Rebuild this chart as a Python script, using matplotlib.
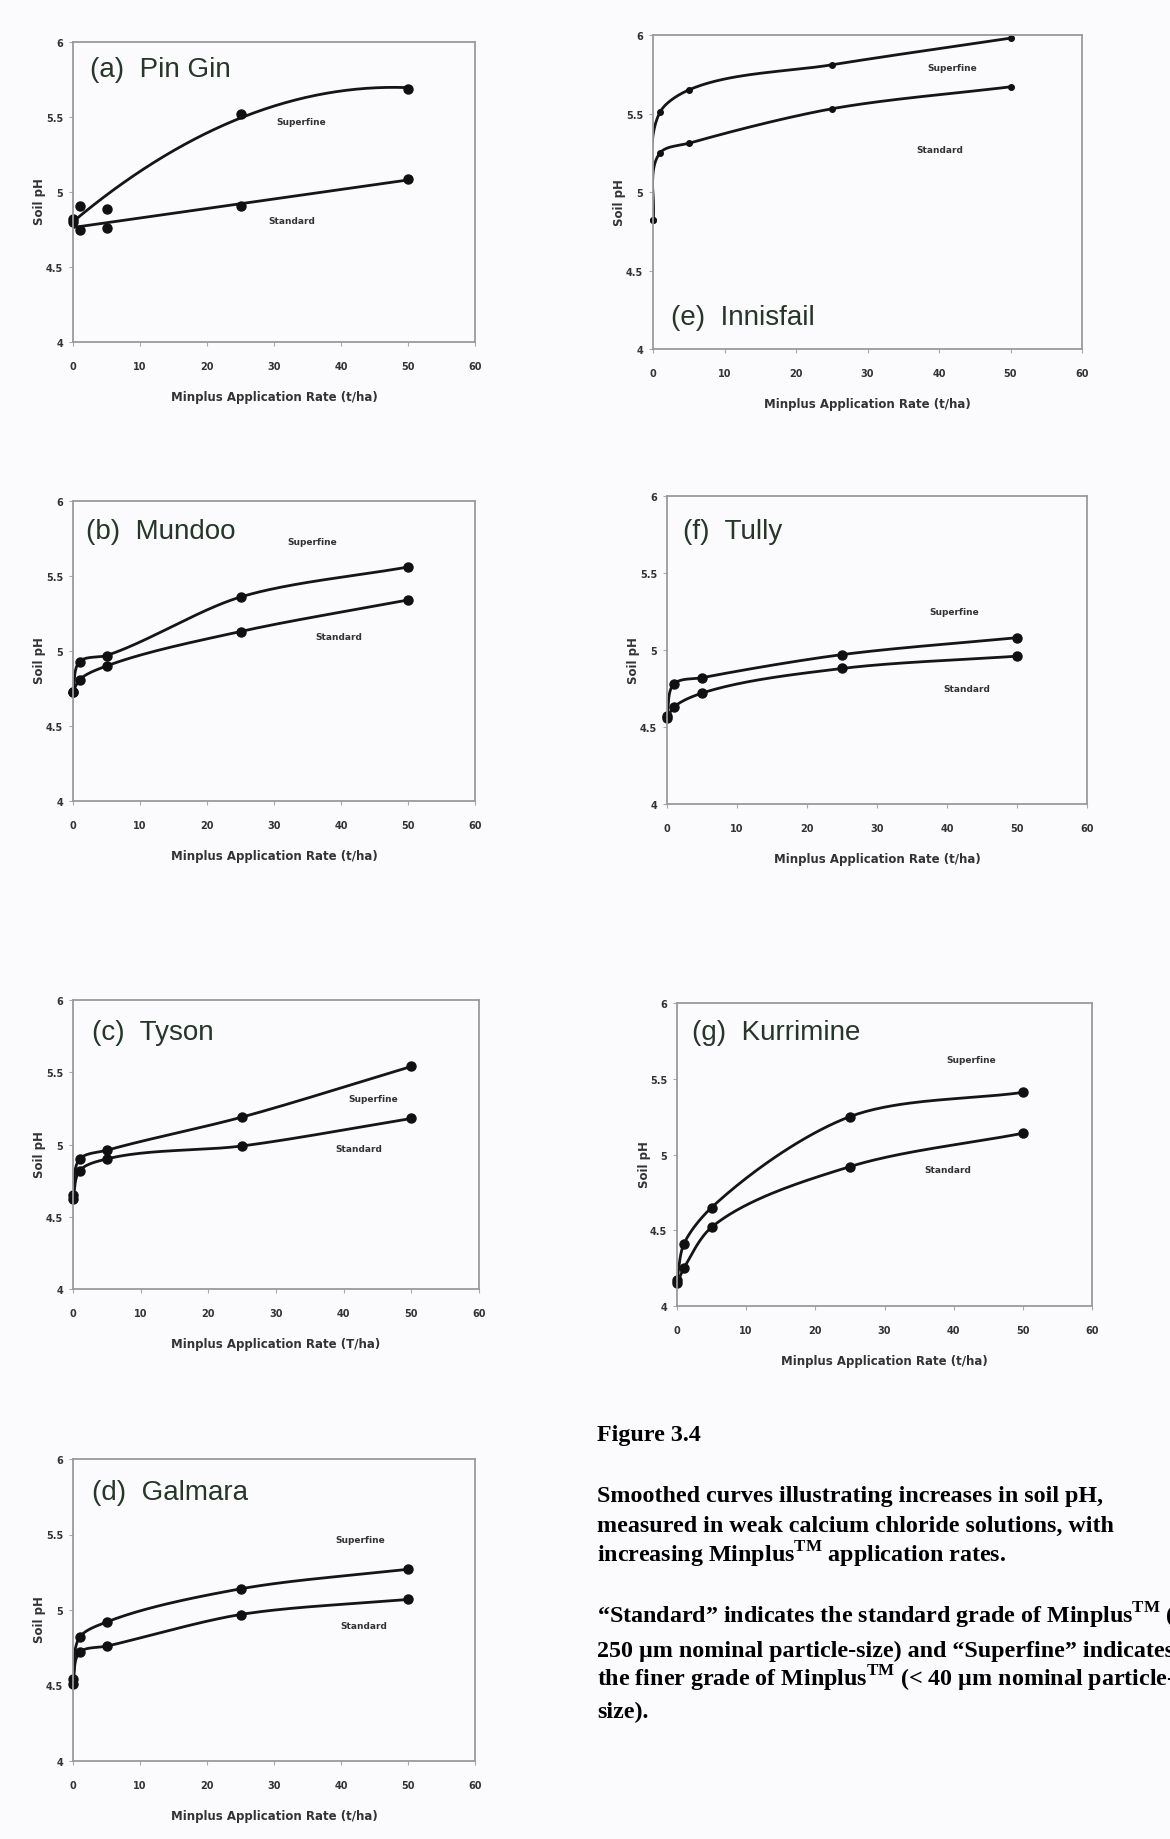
import numpy as np
import matplotlib
matplotlib.use('Agg')
import matplotlib.pyplot as plt

plt.rcParams['mathtext.fontset'] = 'custom'
plt.rcParams['mathtext.rm'] = 'Liberation Serif:bold'

# application rates (t/ha)
rates = [0, 1, 5, 25, 50]

# soil pH
pingin_super = [4.80, 4.91, 4.89, 5.52, 5.69]
pingin_std = [4.82, 4.75, 4.76, 4.91, 5.09]
mundoo_super = [4.73, 4.93, 4.97, 5.36, 5.56]
mundoo_std = [4.73, 4.81, 4.90, 5.13, 5.34]
tyson_super = [4.65, 4.90, 4.96, 5.19, 5.54]
tyson_std = [4.62, 4.82, 4.90, 4.99, 5.18]
galmara_super = [4.54, 4.82, 4.92, 5.14, 5.27]
galmara_std = [4.51, 4.72, 4.76, 4.97, 5.07]
innis_super = [4.82, 5.51, 5.65, 5.81, 5.98]
innis_std = [4.82, 5.25, 5.31, 5.53, 5.67]
tully_super = [4.57, 4.78, 4.82, 4.97, 5.08]
tully_std = [4.56, 4.63, 4.72, 4.88, 4.96]
kurri_super = [4.17, 4.41, 4.65, 5.25, 5.41]
kurri_std = [4.15, 4.25, 4.52, 4.92, 5.14]

W, H = 1170, 1840
NARROW = ['Liberation Sans Narrow', 'DejaVu Sans']


def smooth(xs, ys, ax_w, ax_h, k=0.3, n=40):
    # bezier "smoothed line" through the points, worked out in screen space
    p = np.column_stack([np.array(xs) / 60.0 * ax_w, (np.array(ys) - 4) / 2.0 * ax_h])
    m = len(p)
    tang = []
    for i in range(m):
        if i == 0:
            d = p[1] - p[0]
        elif i == m - 1:
            d = p[-1] - p[-2]
        else:
            a = p[i] - p[i - 1]
            b = p[i + 1] - p[i]
            d = a / np.linalg.norm(a) + b / np.linalg.norm(b)
        tang.append(d / np.linalg.norm(d))
    out = []
    t = np.linspace(0, 1, n)[:, None]
    for i in range(m - 1):
        L = np.linalg.norm(p[i + 1] - p[i])
        c1 = p[i] + k * L * tang[i]
        c2 = p[i + 1] - k * L * tang[i + 1]
        seg = ((1 - t) ** 3) * p[i] + 3 * ((1 - t) ** 2) * t * c1 + 3 * (1 - t) * t ** 2 * c2 + t ** 3 * p[i + 1]
        out.append(seg)
    out = np.vstack(out)
    return out[:, 0] / ax_w * 60.0, out[:, 1] / ax_h * 2.0 + 4


def panel(box, title, tpos, sup, std, sup_lab, std_lab, unit='t/ha', fit=None, ms=6.5):
    x0, y0, x1, y1 = box
    w, h = x1 - x0, y1 - y0
    ax = fig.add_axes([x0 / W, 1 - y1 / H, w / W, h / H])
    ax.set_facecolor('none')
    ax.set_xlim(0, 60)
    ax.set_ylim(4, 6)
    ax.set_xticks(range(0, 61, 10))
    ax.set_yticks([4, 4.5, 5, 5.5, 6])
    ax.set_yticklabels(['4', '4.5', '5', '5.5', '6'])
    for s in ax.spines.values():
        s.set_color('#9a9a9a')
        s.set_linewidth(1.3)
    ax.tick_params(length=3, width=0.8, color='#aaaaaa', labelsize=7,
                   labelcolor='#333333')
    ax.tick_params(axis='x', pad=11)
    ax.tick_params(axis='y', pad=4)
    for lab in ax.get_xticklabels() + ax.get_yticklabels():
        lab.set_fontweight('bold')
        lab.set_family(NARROW)
    for ys in (sup, std):
        if fit == 'poly':
            deg = 2 if ys is sup else 1
            c = np.polyfit(rates, ys, deg)
            xx = np.linspace(0, 50, 200)
            ax.plot(xx, np.polyval(c, xx), color='#151515', lw=2.0)
        else:
            xx, yy = smooth(rates, ys, w, h)
            ax.plot(xx, yy, color='#151515', lw=2.0, solid_capstyle='round')
        ax.plot(rates, ys, 'o', color='#101010', ms=ms, clip_on=False)
    ax.text(tpos[0], tpos[1], title, transform=ax.transAxes, fontsize=20,
            color='#263629', family='Liberation Sans', va='baseline')
    ax.text(sup_lab[0], sup_lab[1], 'Superfine', fontsize=6.5, ha='center', va='center',
            color='#333333', family=NARROW, fontweight='bold')
    ax.text(std_lab[0], std_lab[1], 'Standard', fontsize=6.5, ha='center', va='center',
            color='#333333', family=NARROW, fontweight='bold')
    ax.set_xlabel('Minplus Application Rate (%s)' % unit, fontsize=8.5, fontweight='bold',
                  color='#333333', family=NARROW)
    ax.set_ylabel('Soil pH', fontsize=8.5, fontweight='bold', color='#333333', family=NARROW)
    ax.xaxis.set_label_coords(0.5, -48.0 / h)
    ax.yaxis.set_label_coords(-33.0 / w, 0.47)
    ax.yaxis.label.set_va('center')
    return ax


fig = plt.figure(figsize=(W / 100, H / 100), dpi=100)
fig.patch.set_facecolor('#fbfbfd')

panel((73, 43, 475, 343), '(a)  Pin Gin', (0.043, 0.887), pingin_super, pingin_std,
      (34.1, 5.47), (32.6, 4.81), fit='poly')
panel((73, 502, 475, 802), '(b)  Mundoo', (0.033, 0.878), mundoo_super, mundoo_std,
      (35.7, 5.73), (39.7, 5.10))
panel((73, 1001, 479, 1290), '(c)  Tyson', (0.048, 0.864), tyson_super, tyson_std,
      (44.4, 5.32), (42.3, 4.97), unit='T/ha')
panel((73, 1460, 475, 1762), '(d)  Galmara', (0.047, 0.867), galmara_super, galmara_std,
      (42.9, 5.47), (43.4, 4.90))
panel((653, 36, 1082, 350), '(e)  Innisfail', (0.043, 0.08), innis_super, innis_std,
      (41.8, 5.79), (40.1, 5.27), ms=4)
panel((667, 497, 1087, 805), '(f)  Tully', (0.038, 0.865), tully_super, tully_std,
      (41.1, 5.25), (42.8, 4.75))
panel((677, 1004, 1092, 1307), '(g)  Kurrimine', (0.035, 0.882), kurri_super, kurri_std,
      (42.6, 5.63), (39.2, 4.90))

caption = [
    (1441, 'Figure 3.4'),
    (1502, 'Smoothed curves illustrating increases in soil pH,'),
    (1532, 'measured in weak calcium chloride solutions, with'),
    (1563, r'increasing Minplus$^{\mathrm{TM}}$ application rates.'),
    (1624, '\u201cStandard\u201d indicates the standard grade of Minplus$^{\\mathrm{TM}}$ (<'),
    (1657, '250 \u00b5m nominal particle-size) and \u201cSuperfine\u201d indicates'),
    (1687, 'the finer grade of Minplus$^{\\mathrm{TM}}$ (< 40 \u00b5m nominal particle-'),
    (1718, 'size).'),
]
for yb, line in caption:
    fig.text(597 / W, 1 - yb / H, line, fontsize=17.3, fontweight='bold',
             family='Liberation Serif', va='baseline', ha='left', color='black')

fig.savefig('out.png', dpi=100, facecolor=fig.get_facecolor())
